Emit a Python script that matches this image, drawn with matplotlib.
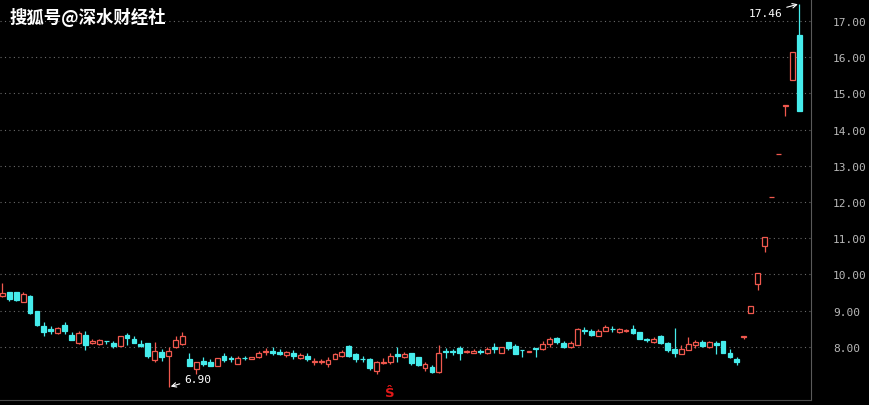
import numpy as np
import matplotlib.pyplot as plt

# daily candles (open / high / low / close)
opens = [9.39, 9.50, 9.51, 9.24, 9.39, 8.99, 8.58, 8.49, 8.37, 8.60,
         8.33, 8.09, 8.32, 8.09, 8.07, 8.17, 8.10, 8.03, 8.33, 8.21,
         8.07, 8.09, 7.63, 7.86, 7.73, 7.98, 8.07, 7.66, 7.38, 7.61,
         7.59, 7.48, 7.73, 7.68, 7.52, 7.70, 7.66, 7.71, 7.86, 7.89,
         7.85, 7.77, 7.83, 7.68, 7.75, 7.58, 7.58, 7.52, 7.66, 7.73,
         8.01, 7.80, 7.67, 7.66, 7.34, 7.54, 7.59, 7.80, 7.71, 7.83,
         7.71, 7.40, 7.45, 7.31, 7.87, 7.87, 7.96, 7.85, 7.84, 7.87,
         7.83, 7.98, 7.84, 8.12, 8.03, 7.91, 7.86, 7.96, 7.94, 8.07,
         8.24, 8.09, 7.98, 8.06, 8.45, 8.43, 8.30, 8.44, 8.50, 8.40,
         8.43, 8.49, 8.40, 8.20, 8.12, 8.30, 8.09, 7.94, 7.80, 7.92,
         8.05, 8.14, 7.98, 8.09, 8.15, 7.82, 7.66, 8.28, 8.93, 9.73,
         10.77, 12.13, 13.33, 14.66, 15.38, 16.61]
highs = [9.76, 9.52, 9.52, 9.51, 9.42, 9.00, 8.67, 8.58, 8.55, 8.69,
         8.40, 8.44, 8.44, 8.21, 8.22, 8.17, 8.17, 8.30, 8.37, 8.29,
         8.19, 8.10, 8.14, 7.94, 7.98, 8.29, 8.40, 7.84, 7.58, 7.71,
         7.66, 7.69, 7.84, 7.75, 7.75, 7.75, 7.72, 7.87, 7.96, 7.98,
         7.94, 7.87, 7.91, 7.84, 7.82, 7.68, 7.66, 7.72, 7.84, 7.91,
         8.05, 7.84, 7.73, 7.70, 7.61, 7.68, 7.84, 8.00, 7.86, 7.84,
         7.72, 7.59, 7.49, 8.05, 7.96, 7.94, 8.03, 7.91, 7.94, 7.94,
         7.98, 8.09, 8.00, 8.14, 8.07, 7.91, 7.88, 7.96, 8.15, 8.28,
         8.28, 8.15, 8.17, 8.52, 8.54, 8.49, 8.49, 8.60, 8.56, 8.52,
         8.49, 8.61, 8.41, 8.25, 8.26, 8.32, 8.14, 8.51, 8.06, 8.26,
         8.19, 8.19, 8.17, 8.15, 8.16, 7.94, 7.72, 8.29, 9.12, 10.03,
         11.03, 12.13, 13.33, 14.67, 16.15, 17.46]
lows = [9.38, 9.26, 9.27, 9.23, 8.90, 8.56, 8.29, 8.35, 8.36, 8.35,
        8.18, 8.08, 7.92, 8.08, 8.06, 8.07, 7.96, 8.02, 8.05, 8.09,
        7.98, 7.68, 7.57, 7.60, 6.90, 7.97, 8.06, 7.47, 7.25, 7.46,
        7.47, 7.47, 7.59, 7.59, 7.51, 7.63, 7.65, 7.70, 7.77, 7.77,
        7.77, 7.71, 7.66, 7.67, 7.61, 7.49, 7.52, 7.45, 7.65, 7.72,
        7.72, 7.59, 7.59, 7.36, 7.25, 7.53, 7.52, 7.59, 7.70, 7.49,
        7.48, 7.34, 7.27, 7.27, 7.68, 7.78, 7.64, 7.84, 7.83, 7.80,
        7.80, 7.84, 7.83, 7.91, 7.79, 7.72, 7.86, 7.71, 7.90, 8.00,
        8.07, 7.96, 7.97, 8.05, 8.35, 8.30, 8.29, 8.43, 8.41, 8.39,
        8.40, 8.34, 8.20, 8.12, 8.11, 8.08, 7.86, 7.72, 7.79, 7.91,
        7.96, 8.00, 7.97, 7.80, 7.82, 7.70, 7.49, 8.21, 8.92, 9.57,
        10.61, 12.13, 13.33, 14.38, 15.37, 14.51]
closes = [9.48, 9.32, 9.29, 9.46, 8.93, 8.60, 8.41, 8.43, 8.51, 8.44,
          8.19, 8.38, 8.06, 8.17, 8.19, 8.16, 8.03, 8.29, 8.24, 8.10,
          8.03, 7.73, 7.89, 7.72, 7.89, 8.19, 8.30, 7.48, 7.57, 7.52,
          7.48, 7.68, 7.64, 7.65, 7.68, 7.68, 7.71, 7.84, 7.88, 7.84,
          7.80, 7.86, 7.73, 7.77, 7.66, 7.60, 7.60, 7.64, 7.80, 7.86,
          7.73, 7.66, 7.65, 7.40, 7.57, 7.59, 7.75, 7.73, 7.80, 7.55,
          7.49, 7.52, 7.31, 7.82, 7.85, 7.85, 7.83, 7.87, 7.89, 7.85,
          7.94, 7.94, 7.98, 7.96, 7.80, 7.90, 7.88, 7.95, 8.07, 8.21,
          8.12, 8.00, 8.09, 8.49, 8.43, 8.33, 8.43, 8.55, 8.48, 8.49,
          8.45, 8.37, 8.21, 8.18, 8.21, 8.09, 7.92, 7.83, 7.94, 8.07,
          8.14, 8.01, 8.12, 8.06, 7.83, 7.71, 7.57, 8.29, 9.12, 10.03,
          11.02, 12.13, 13.33, 14.67, 16.15, 14.52]

yticks = [8, 9, 10, 11, 12, 13, 14, 15, 16, 17]
low_label = '6.90'
high_label = '17.46'
title = '搜狐号@深水财经社'

up_color = '#f0584e'
down_color = '#46ecec'
bg = '#000000'

o = np.array(opens)
h = np.array(highs)
l = np.array(lows)
c = np.array(closes)
x = np.arange(len(o))
up = c >= o

fig = plt.figure(figsize=(8.7, 4.06), dpi=100, facecolor=bg)
ax = fig.add_axes([0, 5 / 406, 810.7 / 870, 401 / 406], facecolor=bg)

# wicks first, bodies drawn over them
wick_cols = np.where(up, up_color, down_color)
ax.vlines(x, l, h, colors=wick_cols, linewidth=0.9, zorder=2)

body_bottom = np.minimum(o, c)
body_h = np.maximum(np.abs(c - o), 0.004)
ax.bar(x[up], body_h[up], bottom=body_bottom[up], width=0.7,
       facecolor=bg, edgecolor=up_color, linewidth=0.9, zorder=3)
ax.bar(x[~up], body_h[~up], bottom=body_bottom[~up], width=0.7,
       facecolor=down_color, edgecolor=down_color, linewidth=0.9, zorder=3)

ax.set_xlim(-0.332, 116.65)
ax.set_ylim(6.528, 17.605)

ax.set_yticks(yticks)
ax.set_yticklabels(['%.2f' % v for v in yticks], family='DejaVu Sans Mono', fontsize=8)
ax.yaxis.tick_right()
ax.tick_params(axis='y', length=0, pad=16, labelcolor='#b8b8b8')
ax.set_xticks([])
ax.grid(axis='y', color='#6a6a6a', linestyle=(0, (1, 3)), linewidth=0.8)
ax.set_axisbelow(True)

for s in ['top', 'left']:
    ax.spines[s].set_visible(False)
ax.spines['right'].set_color('#5a5a5a')
ax.spines['bottom'].set_color('#4a4a4a')

# min / max markers
ilo = int(np.argmin(l))
ihi = int(np.argmax(h))
ax.annotate(low_label, xy=(ilo + 0.3, l[ilo]), xytext=(ilo + 2.2, l[ilo] + 0.22),
            color='white', fontsize=8, family='DejaVu Sans Mono', va='center', ha='left',
            arrowprops=dict(arrowstyle='->', color='white', lw=0.8, shrinkA=1, shrinkB=0))
ax.annotate(high_label, xy=(ihi - 0.2, h[ihi]), xytext=(ihi - 2.4, h[ihi] - 0.24),
            color='white', fontsize=8, family='DejaVu Sans Mono', va='center', ha='right',
            arrowprops=dict(arrowstyle='->', color='white', lw=0.8, shrinkA=1, shrinkB=0))

ax.text(55.9, 6.74, 'Ŝ', color='#e01818', fontsize=9.5, fontweight='bold',
        ha='center', va='center')

fig.text(10 / 870, 1 - 17 / 406, title, color='white', fontsize=12.5,
         family=['Noto Sans CJK SC', 'DejaVu Sans'], fontweight='bold',
         ha='left', va='center')

fig.savefig('out.png', dpi=100, facecolor=bg)
